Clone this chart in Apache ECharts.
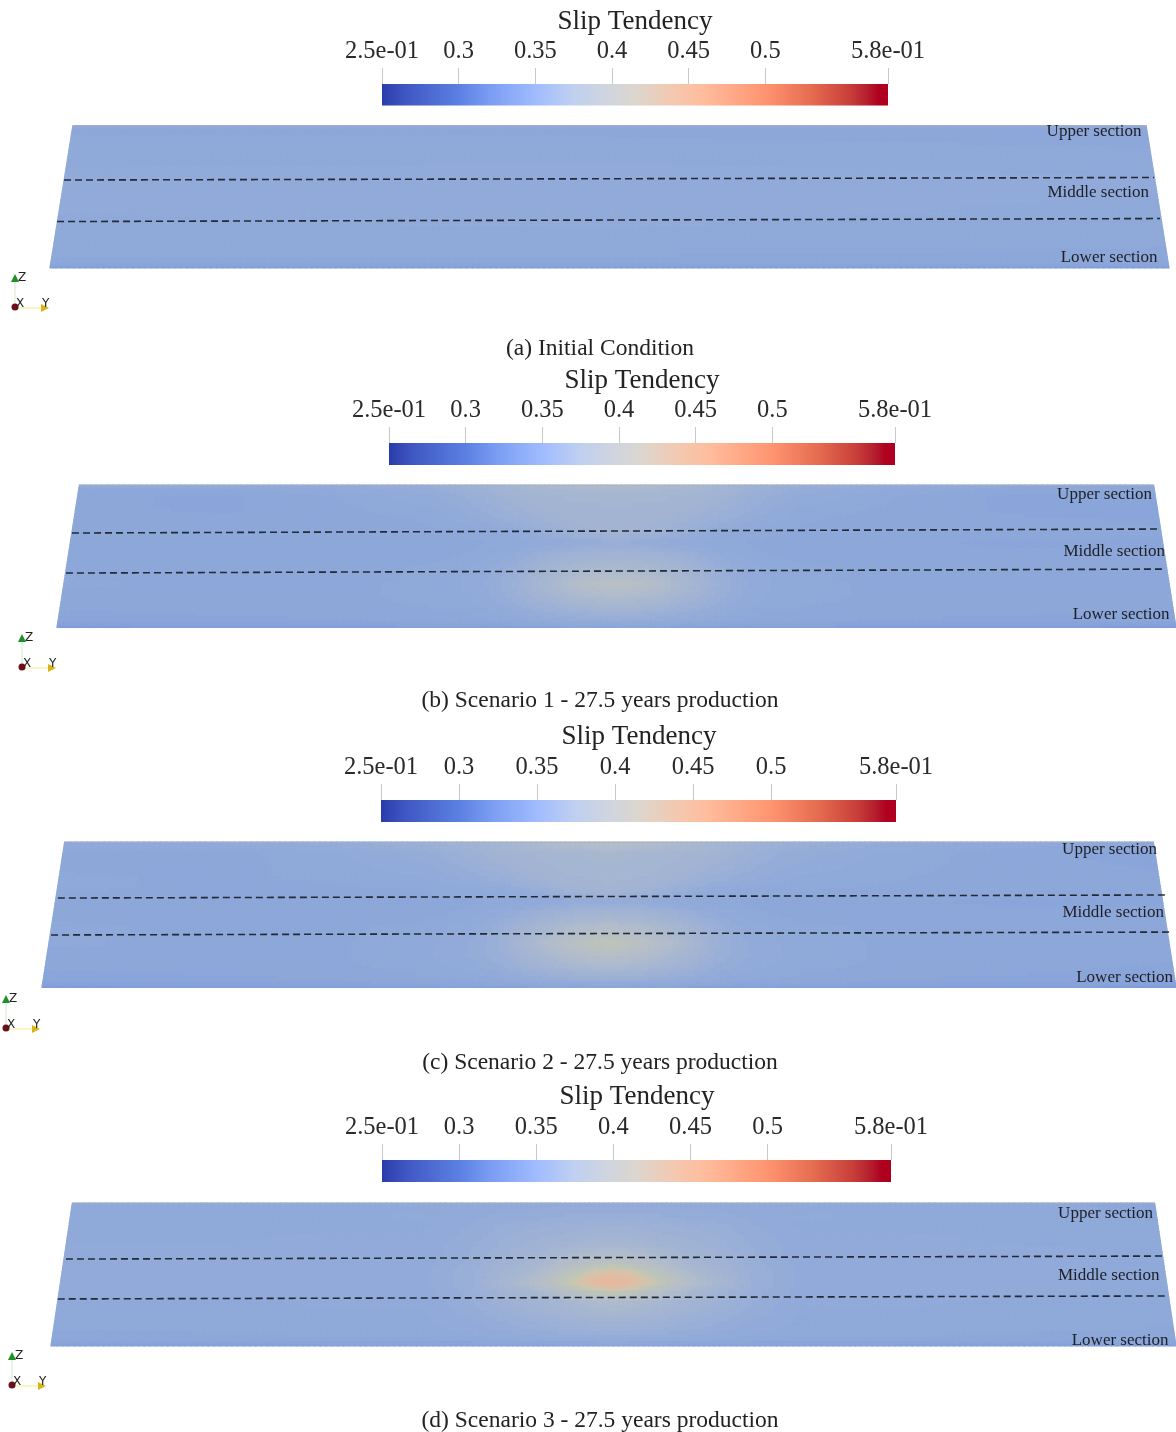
<!DOCTYPE html>
<html><head><meta charset="utf-8">
<style>html,body{margin:0;padding:0;background:#fff}#c{width:1176px;height:1432px}</style>
<script src="https://cdn.jsdelivr.net/npm/echarts@6/dist/echarts.min.js"></script>
</head><body><div id="c"></div>
<script>
// ---------- DATA ----------
const barTitle = 'Slip Tendency';
const tickValues = [0.25, 0.3, 0.35, 0.4, 0.45, 0.5, 0.58];
const tickLabels = ['2.5e-01', '0.3', '0.35', '0.4', '0.45', '0.5', '5.8e-01'];
const sectionNames = ['Upper section', 'Middle section', 'Lower section'];
const captions = ['(a) Initial Condition', '(b) Scenario 1 - 27.5 years production', '(c) Scenario 2 - 27.5 years production', '(d) Scenario 3 - 27.5 years production'];
const barStops = [[.25,'#2a3cab'],[.265,'#3f56c2'],[.30,'#5b80e2'],[.32,'#7a9cf2'],[.35,'#a0bcff'],[.375,'#c0d0f0'],[.40,'#d2d5dc'],[.415,'#dcd6ce'],[.44,'#f4c8b0'],[.46,'#ffbc9c'],[.50,'#ff9470'],[.53,'#e56c50'],[.555,'#c83f3a'],[.566,'#b5202e'],[.574,'#b00020'],[.58,'#b00020']];
const fieldStops = [[.320,'#7f9cdb'],[.330,'#8aa5d9'],[.340,'#93abd9'],[.350,'#9fb2d5'],[.360,'#a8b7d0'],[.370,'#b2bccb'],[.380,'#b9bfc3'],[.390,'#bcc5ba'],[.400,'#d0c5ae'],[.410,'#e0bda3'],[.420,'#ebb49c']];
const contourStep = 0.003;

const alongNodes = [0,14,25,33,37.5,40.6,43.3,46,48.2,50,51.8,54,56.7,59.4,62.5,67,75,86,100];
const heightNodes = [100,92,84,76,68,60,52,42,31,20,10,3,0];
const heightNodesD = [100,92,84,76,68,60,52,45,38,31,20,10,3,0];
const alongNodesA = [0,50,100];
const heightNodesA = [100,97,88,60,32,10,3,0];

const fieldA = [
 [.336,.336,.335],
 [.334,.334,.333],
 [.335,.335,.334],
 [.339,.340,.338],
 [.337,.338,.336],
 [.335,.335,.334],
 [.332,.332,.331],
 [.323,.323,.322]];
const fieldB = [
 [.335,.336,.340,.344,.350,.356,.362,.365,.367,.368,.367,.365,.362,.356,.349,.344,.339,.335,.334],
 [.332,.331,.335,.340,.346,.352,.355,.356,.356,.357,.356,.356,.355,.352,.346,.340,.335,.331,.330],
 [.332,.331,.334,.337,.344,.348,.353,.355,.355,.355,.355,.355,.353,.348,.344,.337,.334,.331,.330],
 [.333,.332,.333,.335,.341,.346,.350,.353,.354,.354,.354,.353,.350,.346,.341,.335,.333,.332,.331],
 [.334,.333,.333,.334,.336,.339,.344,.350,.353,.354,.353,.350,.344,.339,.336,.334,.333,.333,.332],
 [.333,.332,.332,.333,.334,.336,.338,.340,.342,.343,.342,.340,.338,.336,.334,.333,.332,.331,.331],
 [.333,.332,.332,.333,.335,.340,.345,.349,.351,.352,.351,.349,.345,.340,.335,.333,.332,.332,.332],
 [.334,.333,.333,.335,.338,.344,.352,.359,.362,.363,.362,.359,.352,.344,.338,.335,.333,.333,.333],
 [.335,.334,.334,.335,.339,.346,.358,.370,.377,.379,.377,.370,.358,.346,.339,.335,.334,.334,.334],
 [.333,.333,.334,.335,.338,.344,.351,.359,.363,.365,.363,.359,.351,.344,.338,.335,.334,.333,.333],
 [.331,.332,.333,.334,.335,.339,.343,.346,.349,.350,.349,.346,.343,.339,.335,.334,.333,.332,.331],
 [.328,.329,.330,.331,.332,.334,.336,.338,.339,.340,.339,.338,.336,.334,.332,.331,.330,.329,.328],
 [.320,.321,.322,.322,.323,.324,.325,.326,.326,.327,.326,.326,.325,.324,.323,.322,.322,.321,.320]];
const fieldC = [
 [.337,.338,.342,.347,.352,.358,.365,.370,.373,.374,.373,.370,.365,.358,.352,.346,.341,.336,.335],
 [.334,.333,.337,.342,.348,.353,.356,.358,.359,.360,.359,.358,.356,.353,.348,.342,.337,.333,.330],
 [.334,.333,.336,.340,.345,.350,.354,.357,.358,.358,.358,.357,.354,.350,.345,.340,.336,.333,.331],
 [.335,.334,.335,.337,.342,.346,.351,.355,.356,.356,.356,.355,.351,.346,.342,.337,.335,.333,.332],
 [.335,.334,.334,.335,.337,.340,.345,.351,.354,.355,.354,.351,.345,.340,.337,.335,.334,.333,.332],
 [.334,.332,.332,.333,.334,.335,.337,.339,.341,.342,.341,.339,.337,.335,.334,.333,.332,.331,.331],
 [.334,.332,.332,.333,.335,.340,.345,.350,.353,.354,.353,.350,.345,.340,.335,.333,.332,.332,.332],
 [.335,.334,.334,.335,.339,.346,.355,.364,.368,.370,.368,.364,.355,.346,.339,.335,.334,.334,.334],
 [.335,.334,.334,.336,.340,.348,.363,.376,.386,.392,.386,.376,.363,.348,.340,.336,.334,.334,.334],
 [.333,.333,.334,.336,.340,.346,.355,.365,.370,.372,.370,.365,.355,.346,.340,.336,.334,.333,.332],
 [.331,.332,.333,.335,.337,.341,.346,.350,.353,.354,.353,.350,.346,.341,.337,.335,.333,.332,.330],
 [.328,.329,.330,.331,.333,.335,.337,.339,.341,.342,.341,.339,.337,.335,.333,.331,.330,.329,.328],
 [.320,.321,.322,.323,.324,.325,.326,.327,.327,.328,.327,.327,.326,.325,.324,.323,.322,.321,.320]];
const fieldD = [
 [.335,.335,.336,.337,.338,.339,.339,.340,.340,.340,.340,.340,.339,.339,.338,.337,.336,.335,.334],
 [.335,.336,.337,.338,.340,.341,.342,.343,.343,.343,.343,.343,.342,.341,.340,.338,.337,.336,.334],
 [.336,.337,.337,.337,.341,.345,.346,.348,.349,.349,.349,.348,.346,.345,.341,.337,.337,.336,.335],
 [.337,.337,.338,.338,.343,.347,.349,.351,.353,.354,.353,.351,.349,.347,.343,.338,.338,.337,.336],
 [.338,.338,.339,.339,.344,.349,.352,.358,.362,.364,.362,.358,.352,.349,.344,.339,.339,.338,.337],
 [.338,.338,.339,.339,.345,.351,.358,.369,.376,.379,.376,.369,.358,.351,.345,.339,.339,.338,.337],
 [.338,.338,.339,.340,.346,.355,.366,.384,.400,.406,.400,.384,.366,.355,.346,.340,.339,.338,.337],
 [.338,.339,.339,.340,.347,.360,.374,.396,.414,.420,.414,.396,.374,.360,.347,.340,.339,.338,.337],
 [.338,.338,.339,.339,.345,.353,.362,.378,.390,.396,.390,.378,.362,.353,.345,.339,.339,.338,.337],
 [.337,.337,.338,.338,.344,.349,.354,.360,.365,.368,.365,.360,.354,.349,.344,.338,.338,.337,.336],
 [.336,.336,.337,.337,.341,.345,.348,.351,.354,.355,.354,.351,.348,.345,.341,.337,.337,.336,.335],
 [.334,.335,.336,.336,.338,.341,.343,.345,.346,.346,.346,.345,.343,.341,.338,.336,.336,.335,.334],
 [.331,.332,.333,.333,.334,.335,.336,.337,.337,.338,.337,.337,.336,.335,.334,.333,.333,.332,.331],
 [.321,.322,.323,.323,.324,.325,.325,.326,.326,.326,.326,.326,.325,.325,.324,.323,.323,.322,.321]];

// dashed section boundaries in along-fault %, height %
const dashA = [[[1.25,61.75],[98.66,63.5]], [[0.63,32.6],[99.2,34.7]]];
const dashB = [[[1.34,66.3],[98.5,69.1]], [[0.8,38.2],[99.1,41]]];
const dashC = [[[1.4,61.5],[99.2,63.6]], [[0.8,36.1],[99.7,38.1]]];
const dashD = [[[1.33,60.8],[98.8,62.9]], [[0.6,32.9],[99.2,35]]];

// ---------- LAYOUT ----------
const panels = [
 {along:alongNodesA,height:heightNodesA,field:fieldA,dash:dashA,l:50,w:1119,t:125.5,h:142.5,inset:2.05,
  bar:[382,506,84,21.5],titleX:635,titleY:22,capY:349,tri:[15,307],
  sec:[[1141.5,132],[1149,193],[1157.5,258]]},
 {along:alongNodes,height:heightNodes,field:fieldB,dash:dashB,l:57,w:1120,t:485,h:142.5,inset:2.0,
  bar:[389,506,443,22],titleX:642,titleY:381,capY:701,tri:[22,667],
  sec:[[1152,495],[1165,552],[1169.5,615]]},
 {along:alongNodes,height:heightNodes,field:fieldC,dash:dashC,l:42,w:1140,t:842,h:145.5,inset:2.0,
  bar:[381,515,800,22],titleX:639,titleY:737,capY:1063,tri:[6,1028],
  sec:[[1157,850],[1164,913],[1173,978]]},
 {along:alongNodes,height:heightNodesD,field:fieldD,dash:dashD,l:51,w:1127,t:1203,h:143,inset:1.9,
  bar:[382,509,1160,22],titleX:637,titleY:1097,capY:1421,tri:[12,1385],
  sec:[[1153,1214],[1159.5,1276],[1168.5,1341]]}
];

// ---------- HELPERS ----------
function hex(c){return [1,3,5].map(i=>parseInt(c.substr(i,2),16));}
const stopsRGB = fieldStops.map(s=>[s[0],hex(s[1])]);
function fieldColor(raw){
  const v=Math.round(raw/contourStep)*contourStep;
  if(v<=stopsRGB[0][0]) return 'rgb('+stopsRGB[0][1].join(',')+')';
  for(let i=1;i<stopsRGB.length;i++){
    if(v<=stopsRGB[i][0]){
      const a=stopsRGB[i-1],b=stopsRGB[i],t=(v-a[0])/(b[0]-a[0]);
      return 'rgb('+a[1].map((x,k)=>Math.round(x+(b[1][k]-x)*t)).join(',')+')';
    }
  }
  return 'rgb('+stopsRGB[stopsRGB.length-1][1].join(',')+')';
}
const serif='"Liberation Serif",serif';

const grid=[],xAxis=[],yAxis=[],series=[],graphic=[];
panels.forEach((p,pi)=>{
  const gF=grid.length;
  grid.push({left:p.l,top:p.t,width:p.w,height:p.h});
  xAxis.push({gridIndex:gF,type:'value',min:0,max:100,show:false});
  yAxis.push({gridIndex:gF,type:'value',min:0,max:100,show:false});
  const gB=grid.length;
  grid.push({left:p.bar[0],width:p.bar[1],top:p.bar[2],height:p.bar[3]});
  xAxis.push({gridIndex:gB,type:'value',min:.25,max:.58,position:'top',
    axisLine:{show:true,onZero:false,lineStyle:{color:'rgba(0,0,0,0)'}},splitLine:{show:false},
    axisTick:{show:true,length:16,customValues:tickValues,lineStyle:{color:'#c9c9c9',width:1}},
    axisLabel:{show:true,customValues:tickValues,margin:20,fontFamily:serif,fontSize:24.5,color:'#2a2a2a',hideOverlap:false,
      showMinLabel:true,showMaxLabel:true,
      formatter:v=>tickLabels[tickValues.findIndex(t=>Math.abs(t-v)<1e-6)]}});
  yAxis.push({gridIndex:gB,type:'value',min:0,max:1,show:false});

  // fault-plane field
  const cells=[];
  for(let r=0;r<p.height.length-1;r++)for(let c=0;c<p.along.length-1;c++){
    cells.push([p.along[c],p.along[c+1],p.height[r+1],p.height[r],
      p.field[r+1][c],p.field[r+1][c+1],p.field[r][c],p.field[r][c+1]]);
  }
  const shear=(u,z)=>50+(u-50)*(1-(z/100)*(2*p.inset/100));
  series.push({type:'custom',xAxisIndex:gF,yAxisIndex:gF,silent:true,clip:false,z:1,
    encode:{x:[0,1],y:[2,3]},data:cells,
    renderItem:(params,api)=>{
      const u0=api.value(0),u1=api.value(1),z0=api.value(2),z1=api.value(3);
      const v00=api.value(4),v10=api.value(5),v01=api.value(6),v11=api.value(7);
      const nx=Math.max(1,Math.ceil((u1-u0)*p.w/100/6));
      const ny=Math.max(1,Math.ceil((z1-z0)*p.h/100/3));
      const children=[];
      for(let i=0;i<nx;i++)for(let j=0;j<ny;j++){
        const a=i/nx,b=(i+1)/nx,d=j/ny,e=(j+1)/ny;
        const ua=u0+(u1-u0)*a,ub=u0+(u1-u0)*b,za=z0+(z1-z0)*d,zb=z0+(z1-z0)*e;
        const ta=(a+b)/2,te=(d+e)/2;
        const v=(v00*(1-ta)+v10*ta)*(1-te)+(v01*(1-ta)+v11*ta)*te;
        const col=fieldColor(v);
        children.push({type:'polygon',shape:{points:[
          api.coord([shear(ua,za),za]),api.coord([shear(ub,za),za]),
          api.coord([shear(ub,zb),zb]),api.coord([shear(ua,zb),zb])]},
          style:{fill:col,stroke:col,lineWidth:1.2}});
      }
      return {type:'group',children};
    }});
  // top edge
  series.push({type:'line',xAxisIndex:gF,yAxisIndex:gF,silent:true,symbol:'none',z:2,
    data:[[p.inset,100],[100-p.inset,100]],lineStyle:{color:'#a7afc2',width:1}});
  // dashed boundaries
  p.dash.forEach(d=>series.push({type:'line',xAxisIndex:gF,yAxisIndex:gF,silent:true,symbol:'none',z:3,clip:false,
    data:d,lineStyle:{color:'#222a35',width:1.6,type:[7,4]}}));
  // colour bar
  series.push({type:'custom',xAxisIndex:gB,yAxisIndex:gB,silent:true,z:1,
    encode:{x:[0,1],y:[2,3]},data:[[tickValues[0],tickValues[tickValues.length-1],0,1]],
    renderItem:(params,api)=>{
      const a=api.coord([api.value(0),api.value(3)]),b=api.coord([api.value(1),api.value(2)]);
      return {type:'rect',shape:{x:a[0],y:a[1],width:b[0]-a[0],height:b[1]-a[1]},
        style:{fill:{type:'linear',x:0,y:0,x2:1,y2:0,
          colorStops:barStops.map(s=>({offset:(s[0]-.25)/.33,color:s[1]}))}}};
    }});

  // texts
  graphic.push({type:'text',x:p.titleX,y:p.titleY,style:{text:barTitle,font:'27px '+serif,fill:'#222',textAlign:'center',textVerticalAlign:'middle'}});
  graphic.push({type:'text',x:600,y:p.capY,style:{text:captions[pi],font:'23.5px '+serif,fill:'#222',textAlign:'center',textVerticalAlign:'middle'}});
  p.sec.forEach((s,i)=>graphic.push({type:'text',x:s[0],y:s[1],z:10,style:{text:sectionNames[i],font:'17px '+serif,fill:'#1c1f26',textAlign:'right',textVerticalAlign:'middle'}}));

  // orientation triad
  const [ox,oy]=p.tri;
  graphic.push({type:'line',shape:{x1:ox,y1:oy,x2:ox,y2:oy-26},style:{stroke:'#cfe9cf',lineWidth:1}});
  graphic.push({type:'line',shape:{x1:ox,y1:oy+1,x2:ox+30,y2:oy+1},style:{stroke:'#f3ec8a',lineWidth:1}});
  graphic.push({type:'polygon',shape:{points:[[ox,oy-33],[ox+4,oy-25],[ox-4,oy-25]]},style:{fill:'#1f8f2a'}});
  graphic.push({type:'polygon',shape:{points:[[ox+34,oy+1],[ox+26,oy-3],[ox+26,oy+5]]},style:{fill:'#d9b414'}});
  graphic.push({type:'circle',shape:{cx:ox,cy:oy,r:3.5},style:{fill:'#6d0f18'}});
  [['Z',3,-29],['X',1,-3],['Y',27,-3]].forEach(t=>graphic.push({type:'text',x:ox+t[1],y:oy+t[2],
    style:{text:t[0],font:'12px "DejaVu Sans",sans-serif',fill:'#222',textVerticalAlign:'middle'}}));
});

const chart=echarts.init(document.getElementById('c'),null,{renderer:'canvas',width:1176,height:1432});
chart.setOption({animation:false,backgroundColor:'#fff',grid,xAxis,yAxis,series,graphic});
</script></body></html>
